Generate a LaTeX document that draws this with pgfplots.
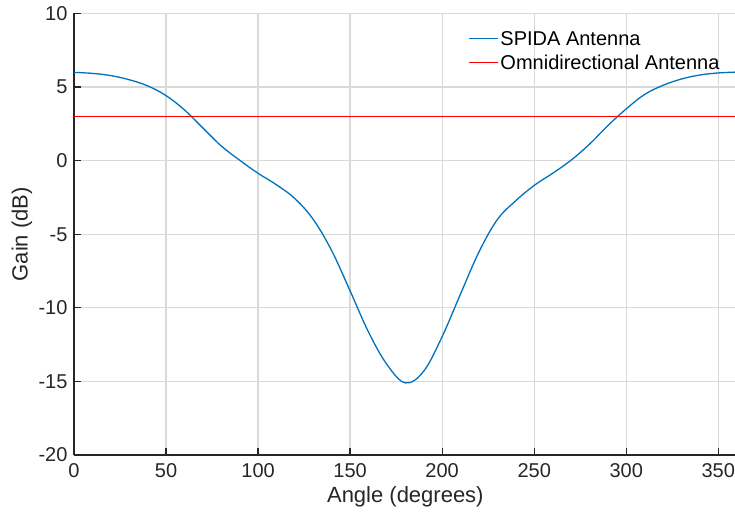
\documentclass[border=0pt]{standalone}
\usepackage{fontspec}
\setmainfont{Liberation Sans}
\usepackage{pgfplots}
\pgfplotsset{compat=1.18}
\definecolor{mblue}{rgb}{0,0.447,0.741}
\definecolor{axgray}{rgb}{0.15,0.15,0.15}
\begin{document}
\begin{tikzpicture}
\begin{axis}[
 scale only axis, width=662.7pt, height=441.5pt,
 xmin=0, xmax=360, ymin=-20, ymax=10,
 enlargelimits=false,
 axis lines=left,
 axis line style={axgray, line width=1.3pt, -},
 every outer x axis line/.append style={-},
 every outer y axis line/.append style={-},
 tick align=inside, major tick length=7pt,
 tick style={axgray, line width=1.3pt},
 xtick={0,50,100,150,200,250,300,350}, ytick={-20,-15,-10,-5,0,5,10},
 grid=major, major grid style={black!15, line width=1.3pt},
 ticklabel style={font=\fontsize{20}{24}\selectfont, text=axgray},
 yticklabel style={xshift=-3pt},
 xticklabel style={yshift=-5pt},
 /pgf/number format/assume math mode=true,
 label style={font=\fontsize{22}{26}\selectfont, text=axgray},
 xlabel={Angle (degrees)}, ylabel={Gain (dB)},
 xlabel style={at={(axis description cs:0.5,0)}, anchor=center, yshift=-42pt},
 ylabel style={at={(axis description cs:-0.0785,0.5)}, anchor=center},
 legend style={draw=none, fill=none, at={(rel axis cs:0.5945,0.9652)}, anchor=north west,
   inner sep=0pt, font=\fontsize{20}{24}\selectfont, text=black, row sep=4pt,
   nodes={inner sep=2pt}},
 legend cell align=left,
 legend image code/.code={\draw[#1] (0pt,0pt) -- (29pt,0pt);},
]
\addplot[mblue, line width=1.3pt, smooth, tension=0.6] coordinates {
(0,6.0) (10,5.93) (20,5.78) (30,5.5) (40,5.08) (50,4.42) (60,3.45) (70,2.22)
(80,1.0) (90,0.03) (100,-0.86) (110,-1.64) (120,-2.58)
(130,-4.0) (140,-6.12) (150,-8.85) (160,-11.65) (170,-13.85) (180,-15.1)
(190,-14.3) (200,-11.95) (210,-9.05) (220,-6.2)
(230,-4.0) (240,-2.72) (250,-1.68) (260,-0.86) (270,0.03) (280,1.12)
(290,2.38) (300,3.52) (310,4.5) (320,5.12) (330,5.55) (340,5.82) (350,5.96) (360,6.02)
};
\addlegendentry{SPIDA Antenna}
\addplot[red, line width=1.3pt] coordinates {(0,3) (360,3)};
\addlegendentry{Omnidirectional Antenna}
\end{axis}
\pgfresetboundingbox
\path[use as bounding box] ([xshift=-74pt,yshift=-61pt]current axis.south west) rectangle ++(735pt,516pt);
\end{tikzpicture}
\end{document}
